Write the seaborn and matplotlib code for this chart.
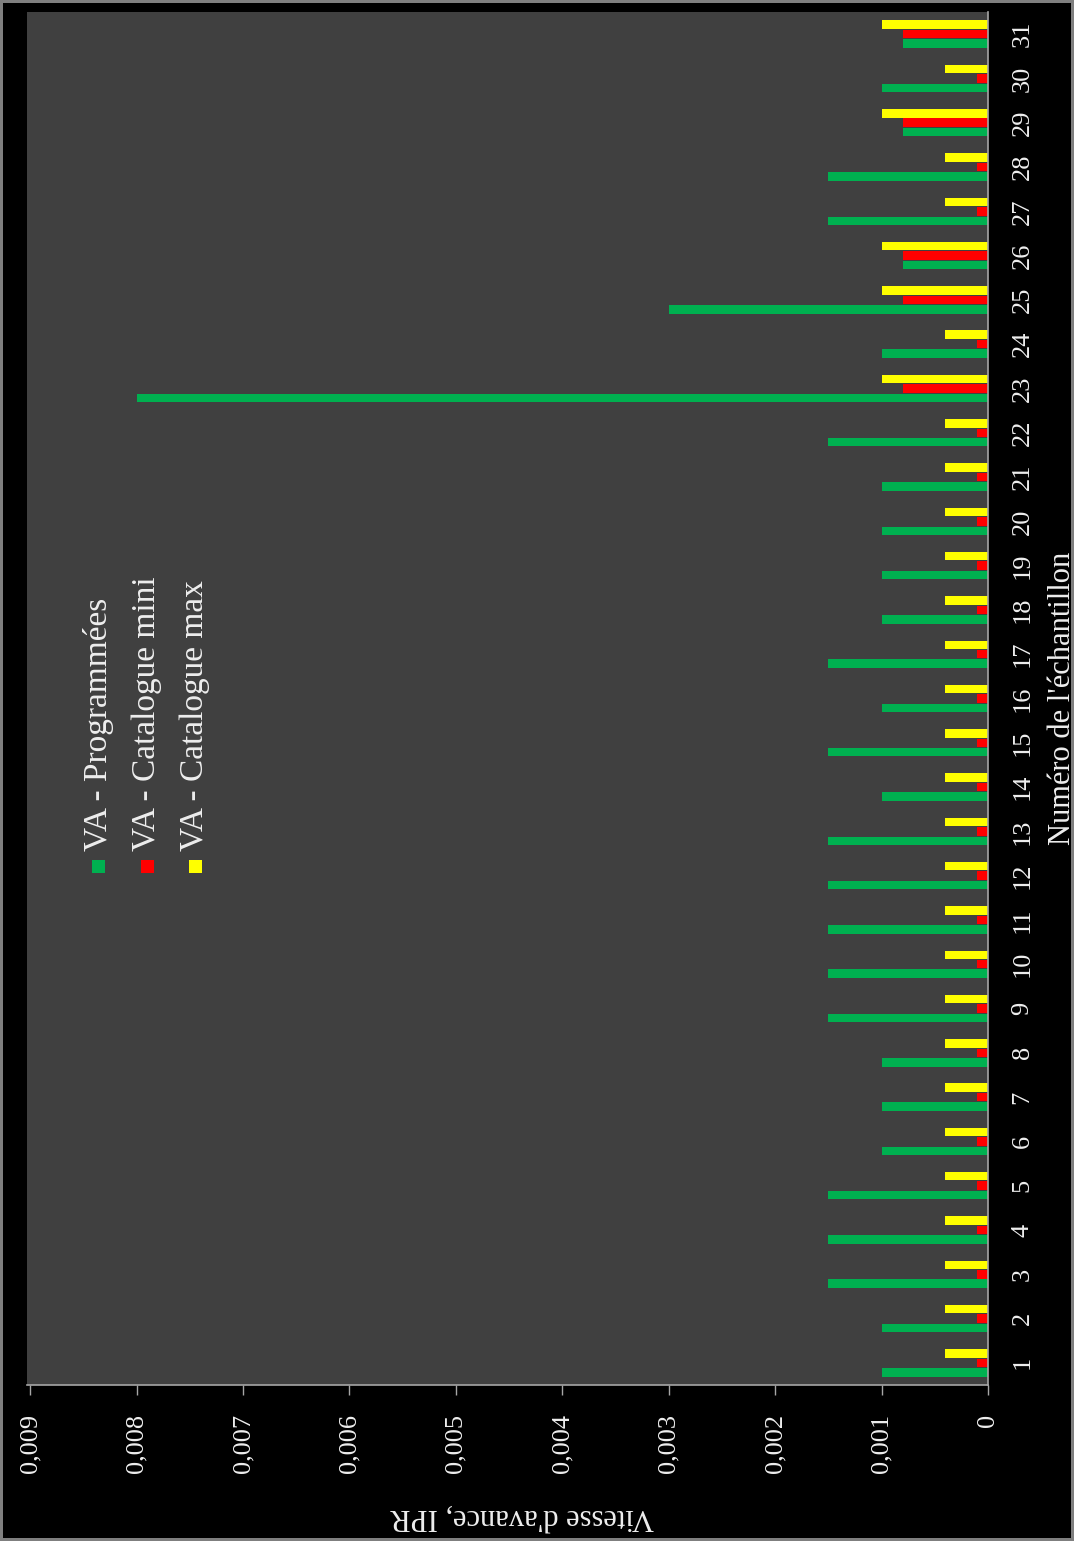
# Vitesse d'avance par échantillon - barres horizontales (graphique tourné)

import pandas as pd
import matplotlib.pyplot as plt
import seaborn as sns
from matplotlib.patches import Rectangle

# -----------------------------------------------------
# Data
# -----------------------------------------------------
samples = [str(i) for i in range(1, 32)]

va_programmees = [0.001, 0.001, 0.0015, 0.0015, 0.0015, 0.001, 0.001, 0.001, 0.0015, 0.0015,
                  0.0015, 0.0015, 0.0015, 0.001, 0.0015, 0.001, 0.0015, 0.001, 0.001, 0.001,
                  0.001, 0.0015, 0.008, 0.001, 0.003, 0.0008, 0.0015, 0.0015, 0.0008, 0.001,
                  0.0008]
va_catalogue_mini = [0.0001, 0.0001, 0.0001, 0.0001, 0.0001, 0.0001, 0.0001, 0.0001, 0.0001, 0.0001,
                     0.0001, 0.0001, 0.0001, 0.0001, 0.0001, 0.0001, 0.0001, 0.0001, 0.0001, 0.0001,
                     0.0001, 0.0001, 0.0008, 0.0001, 0.0008, 0.0008, 0.0001, 0.0001, 0.0008, 0.0001,
                     0.0008]
va_catalogue_max = [0.0004, 0.0004, 0.0004, 0.0004, 0.0004, 0.0004, 0.0004, 0.0004, 0.0004, 0.0004,
                    0.0004, 0.0004, 0.0004, 0.0004, 0.0004, 0.0004, 0.0004, 0.0004, 0.0004, 0.0004,
                    0.0004, 0.0004, 0.001, 0.0004, 0.001, 0.001, 0.0004, 0.0004, 0.001, 0.0004,
                    0.001]

series_names = ['VA - Programmées', 'VA - Catalogue mini', 'VA - Catalogue max']
series_colors = ['#00B050', '#FF0000', '#FFFF00']

x_ticks = [0, 0.001, 0.002, 0.003, 0.004, 0.005, 0.006, 0.007, 0.008, 0.009]
x_tick_labels = ['0', '0,001', '0,002', '0,003', '0,004', '0,005', '0,006', '0,007', '0,008', '0,009']

df = pd.DataFrame({
    'Echantillon': samples * 3,
    'Valeur': va_programmees + va_catalogue_mini + va_catalogue_max,
    'Serie': [series_names[0]] * 31 + [series_names[1]] * 31 + [series_names[2]] * 31,
})

# -----------------------------------------------------
# Style
# -----------------------------------------------------
sns.set_style('dark')
plt.rcParams['font.family'] = ['Liberation Serif', 'DejaVu Serif']
text_color = '#eeeeee'
axis_color = '#a6a6a6'

W, H = 1074, 1541
fig = plt.figure(figsize=(W / 100, H / 100), dpi=100, facecolor='black')
fig.patch.set_edgecolor('#7f7f7f')
fig.patch.set_linewidth(4)

# plot area in pixels: left 27, right 988, top 12, bottom 1385
ax = fig.add_axes([27 / W, (H - 1385) / H, (988 - 27) / W, (1385 - 12) / H])
ax.set_facecolor('#404040')

sns.barplot(data=df, x='Valeur', y='Echantillon', hue='Serie', orient='h',
            order=samples, hue_order=series_names, palette=series_colors, saturation=1,
            width=0.64, gap=0.1, linewidth=0, errorbar=None, legend=False, ax=ax)

ax.set_ylim(-0.5, 30.5)
ax.set_xlim(0.00903, 0)
ax.grid(False)

# value axis (bottom, rotated labels)
ax.set_xticks(x_ticks)
ax.set_xticklabels(x_tick_labels, rotation=90, fontsize=19, color=text_color)
ax.tick_params(axis='x', bottom=True, length=7, width=1, color=axis_color, pad=14, direction='out')
ax.set_xlabel("Vitesse d'avance, IPR", rotation=180, fontsize=22, color=text_color, labelpad=14)
ax.xaxis.set_label_coords(0.515, -0.085)

# category axis (right, rotated labels)
ax.yaxis.tick_right()
ax.yaxis.set_label_position('right')
for lbl in ax.get_yticklabels():
    lbl.set_rotation(90)
    lbl.set_fontsize(19)
    lbl.set_color(text_color)
    lbl.set_va('center')
ax.tick_params(axis='y', right=True, left=False, length=0, pad=17)
ax.set_ylabel("Numéro de l'échantillon", rotation=90, fontsize=22, color=text_color, labelpad=10)

for side in ['top', 'left']:
    ax.spines[side].set_visible(False)
for side in ['bottom', 'right']:
    ax.spines[side].set_visible(True)
    ax.spines[side].set_color(axis_color)
    ax.spines[side].set_linewidth(1.2)

# -----------------------------------------------------
# Legend (rotated, drawn by hand)
# -----------------------------------------------------
legend_x = [98, 147, 195]
square = 13
for name, color, px in zip(series_names, series_colors, legend_x):
    fig.patches.append(Rectangle(((px - square / 2) / W, (H - 866 - square / 2) / H),
                                 square / W, square / H, facecolor=color, edgecolor='none',
                                 transform=fig.transFigure, figure=fig))
    fig.text(px / W, (H - 851) / H, name, rotation=90, ha='center', va='bottom',
             fontsize=24, color=text_color)

plt.savefig('out.png', dpi=100, facecolor=fig.get_facecolor(), edgecolor=fig.get_edgecolor())
